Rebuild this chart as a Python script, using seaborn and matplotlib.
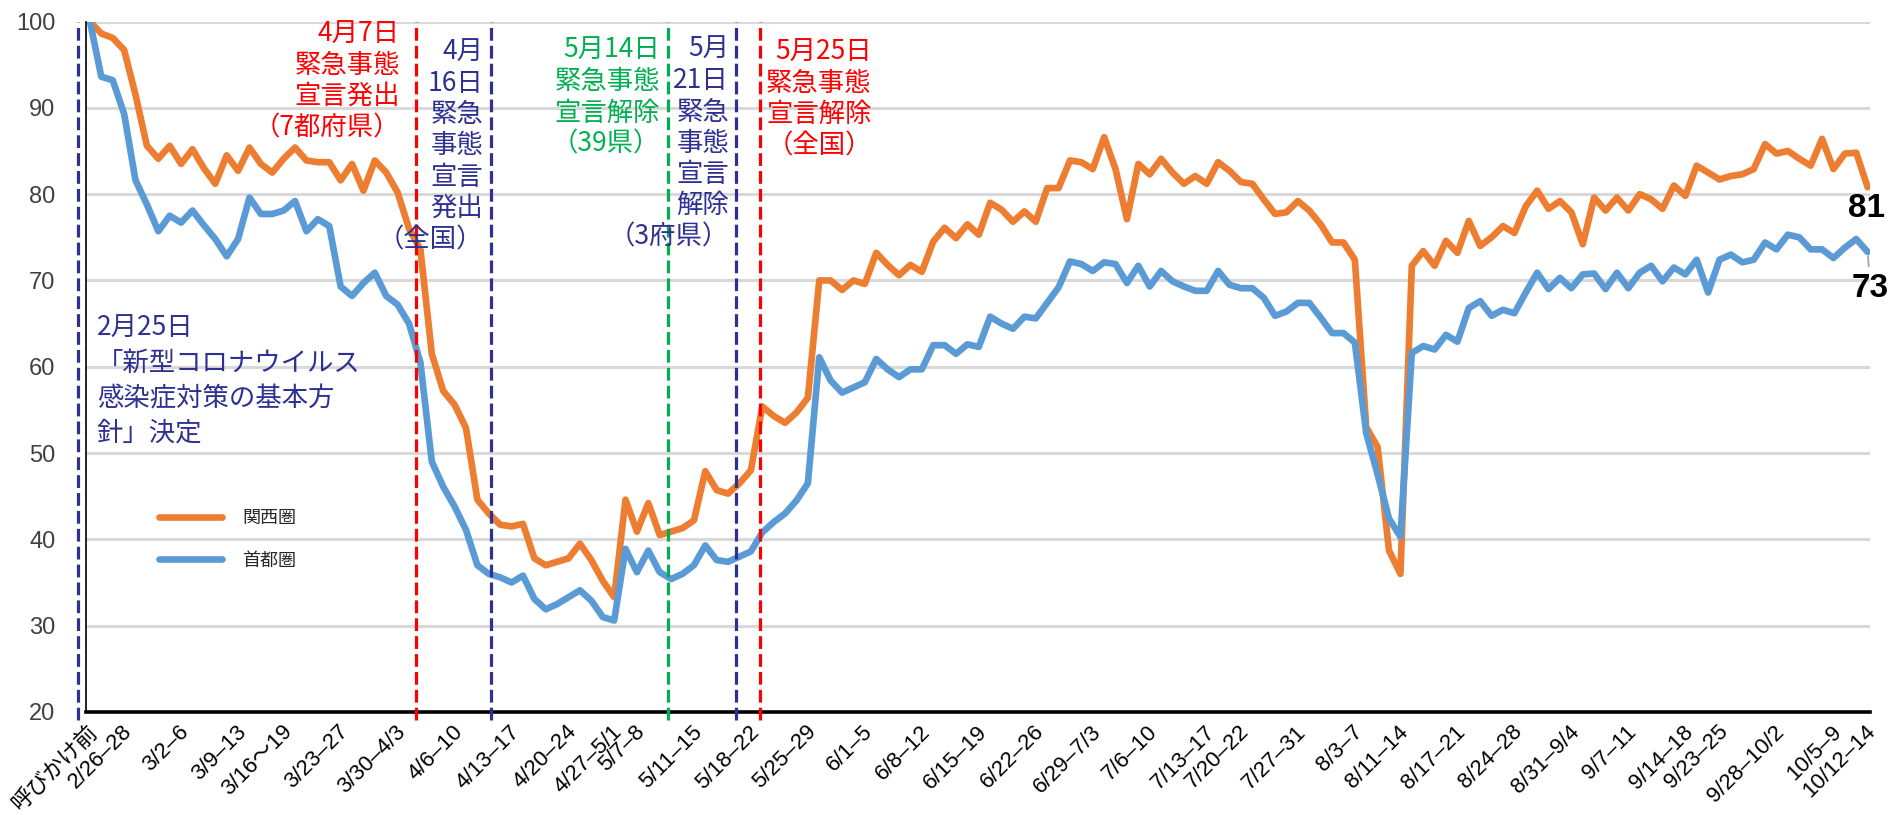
import matplotlib
matplotlib.use("Agg")
import matplotlib.pyplot as plt
from matplotlib import font_manager
from matplotlib.transforms import ScaledTranslation
import numpy as np
import seaborn as sns

# weekly category labels and number of weekday points in each week
week_labels = ['呼びかけ前', '2/26–28', '3/2–6', '3/9–13', '3/16～19', '3/23–27', '3/30–4/3',
               '4/6–10', '4/13–17', '4/20–24', '4/27–5/1', '5/7–8', '5/11–15', '5/18–22',
               '5/25–29', '6/1–5', '6/8–12', '6/15–19', '6/22–26', '6/29–7/3', '7/6–10',
               '7/13–17', '7/20–22', '7/27–31', '8/3–7', '8/11–14', '8/17–21', '8/24–28',
               '8/31–9/4', '9/7–11', '9/14–18', '9/23–25', '9/28–10/2', '10/5–9', '10/12–14']
week_days = [1, 3, 5, 5, 4, 5, 5, 5, 5, 5, 4, 2, 5, 5, 5, 5, 5, 5, 5, 5, 5, 5, 3, 5, 5,
             4, 5, 5, 5, 5, 5, 3, 5, 5, 3]

kansai = [100, 98.6, 98.1, 96.7, 91.5, 85.6, 84.1, 85.6, 83.5, 85.2,
          83.0, 81.2, 84.5, 82.7, 85.4, 83.5, 82.5, 84.1, 85.4, 83.9,
          83.7, 83.7, 81.6, 83.5, 80.4, 83.9, 82.5, 80.2, 76.0, 73.6,
          61.5, 57.2, 55.6, 52.9, 44.6, 43.0, 41.7, 41.5, 41.8, 37.8,
          37.0, 37.4, 37.8, 39.5, 37.6, 35.2, 33.3, 44.6, 40.9, 44.2,
          40.5, 40.9, 41.3, 42.2, 47.9, 45.7, 45.3, 46.5, 48.0, 55.4,
          54.3, 53.5, 54.7, 56.4, 70.0, 70.0, 68.9, 70.0, 69.6, 73.2,
          71.8, 70.6, 71.8, 71.0, 74.5, 76.1, 74.9, 76.5, 75.3, 79.0,
          78.2, 76.8, 78.0, 76.8, 80.7, 80.7, 83.9, 83.7, 82.9, 86.6,
          82.9, 77.1, 83.5, 82.3, 84.1, 82.5, 81.2, 82.1, 81.2, 83.7,
          82.7, 81.4, 81.2, 79.4, 77.7, 77.9, 79.2, 78.1, 76.5, 74.4,
          74.4, 72.4, 53.0, 50.7, 38.7, 36.0, 71.7, 73.4, 71.7, 74.6,
          73.2, 76.9, 74.0, 75.0, 76.3, 75.5, 78.6, 80.4, 78.3, 79.2,
          77.9, 74.2, 79.6, 78.1, 79.6, 78.1, 80.0, 79.4, 78.3, 81.0,
          79.8, 83.3, 82.5, 81.7, 82.1, 82.3, 82.9, 85.8, 84.7, 85.0,
          84.1, 83.3, 86.4, 82.9, 84.7, 84.8, 80.8]

shutoken = [100, 93.6, 93.2, 89.3, 81.6, 78.8, 75.7, 77.5, 76.7, 78.1,
            76.4, 74.8, 72.8, 74.8, 79.6, 77.7, 77.7, 78.1, 79.2, 75.7,
            77.1, 76.3, 69.3, 68.2, 69.7, 70.9, 68.2, 67.2, 65.0, 60.5,
            49.0, 46.1, 43.8, 41.1, 37.0, 36.0, 35.6, 35.0, 35.8, 33.1,
            31.9, 32.5, 33.3, 34.1, 32.9, 31.0, 30.6, 38.9, 36.2, 38.7,
            36.2, 35.4, 36.0, 37.0, 39.3, 37.6, 37.4, 38.0, 38.6, 40.8,
            42.0, 43.0, 44.5, 46.5, 61.1, 58.4, 57.0, 57.6, 58.2, 60.9,
            59.7, 58.8, 59.7, 59.7, 62.5, 62.5, 61.5, 62.6, 62.3, 65.8,
            65.0, 64.4, 65.8, 65.6, 67.4, 69.2, 72.2, 71.9, 71.1, 72.1,
            71.9, 69.7, 71.7, 69.3, 71.1, 69.9, 69.3, 68.8, 68.8, 71.1,
            69.5, 69.1, 69.1, 68.0, 65.9, 66.4, 67.4, 67.4, 65.7, 63.9,
            63.9, 62.8, 52.3, 47.5, 42.4, 40.3, 61.6, 62.4, 62.0, 63.7,
            62.9, 66.8, 67.6, 65.9, 66.6, 66.2, 68.6, 70.9, 69.0, 70.3,
            69.1, 70.7, 70.8, 69.0, 70.9, 69.1, 70.9, 71.7, 69.9, 71.5,
            70.7, 72.4, 68.6, 72.4, 73.0, 72.1, 72.4, 74.4, 73.6, 75.3,
            75.0, 73.6, 73.6, 72.6, 73.8, 74.8, 73.3]

# event lines (position on the day axis) and their notes
event_pos = [-1.05, 28.6, 35.2, 50.75, 56.7, 58.8]
event_notes = ['2月25日\n「新型コロナウイルス\n感染症対策の基本方\n針」決定',
               '4月7日\n緊急事態\n宣言発出\n（7都府県）',
               '4月\n16日\n緊急\n事態\n宣言\n発出\n（全国）',
               '5月14日\n緊急事態\n宣言解除\n（39県）',
               '5月\n21日\n緊急\n事態\n宣言\n解除\n（3府県）',
               '5月25日\n緊急事態\n宣言解除\n（全国）']

NAVY, RED, GREEN = '#2E3192', '#FF0000', '#00B050'
ORANGE, BLUE = '#ED7D31', '#5B9BD5'

sns.set_theme(style='white')
names = {f.name for f in font_manager.fontManager.ttflist}
num_font = 'Liberation Sans Narrow' if 'Liberation Sans Narrow' in names else 'Liberation Sans'
jp_font = 'Noto Sans CJK JP'
plt.rcParams['font.family'] = [num_font, jp_font, 'DejaVu Sans']

x = np.arange(len(kansai))

fig = plt.figure(figsize=(18.89, 8.15), dpi=100)
ax = fig.add_axes([0.0455, 0.1264, 0.9444, 0.8472])

sns.lineplot(x=x, y=kansai, ax=ax, color=ORANGE, linewidth=4.8, label='関西圏')
sns.lineplot(x=x, y=shutoken, ax=ax, color=BLUE, linewidth=4.8, label='首都圏')
for ln in ax.lines:
    ln.set_solid_joinstyle('round')

ax.set_xlim(-0.35, 156.2)
ax.set_ylim(20, 100)
ax.set_yticks(range(20, 101, 10))
ax.yaxis.grid(True, color='#d9d9d9', linewidth=2.2)
ax.xaxis.grid(False)
ax.set_axisbelow(True)
for s in ['top', 'right']:
    ax.spines[s].set_visible(False)
ax.spines['bottom'].set_color('black')
ax.spines['bottom'].set_linewidth(2.6)
ax.spines['left'].set_color('black')
ax.spines['left'].set_linewidth(1.2)

ax.tick_params(axis='y', length=0, pad=22, labelsize=17, labelcolor='#404040')
tick_pos = np.cumsum(week_days) - 1
ax.set_xticks(tick_pos)
ax.set_xticklabels(week_labels, rotation=45, ha='right', va='center',
                   rotation_mode='anchor', fontsize=16, color='black')
ax.tick_params(axis='x', length=0, pad=12)
shift = ScaledTranslation(5 / 100, 0, fig.dpi_scale_trans)
for lab in ax.get_xticklabels():
    lab.set_transform(lab.get_transform() + shift)

# vertical dashed event lines
event_colors = [NAVY, RED, NAVY, GREEN, NAVY, RED]
for pos, col in zip(event_pos, event_colors):
    ax.axvline(pos, ymin=-0.012, ymax=1.0, color=col, linewidth=2.3,
               linestyle=(0, (4, 1.6)), clip_on=False, zorder=4)

# notes next to the lines
note_xy = [(0.6, 66.0, 'left'), (27.2, 100.1, 'right'), (34.5, 98.0, 'right'),
           (50.0, 98.2, 'right'), (56.1, 98.3, 'right'), (68.6, 98.0, 'right')]
note_sp = [1.38, 1.2, 1.2, 1.2, 1.2, 1.2]
for txt, (tx, ty, ha), col, sp in zip(event_notes, note_xy, event_colors, note_sp):
    ax.text(tx, ty, txt, ha=ha, va='top', multialignment=ha, color=col,
            fontsize=19, family=[jp_font], linespacing=sp, zorder=5)

# end values
ax.annotate(f'{kansai[-1]:.0f}', xy=(x[-1], kansai[-1]), xytext=(-1, -15),
            textcoords='offset points', ha='center', va='center',
            fontsize=24, fontweight='bold', color='black', annotation_clip=False)
ax.annotate(f'{shutoken[-1]:.0f}', xy=(x[-1], shutoken[-1]), xytext=(2, -26),
            textcoords='offset points', ha='center', va='center',
            fontsize=24, fontweight='bold', color='black', annotation_clip=False,
            arrowprops=dict(arrowstyle='-', color='#a0a0a0', lw=1.2, shrinkA=2, shrinkB=3))

ax.legend(loc='upper left', bbox_to_anchor=(150 / 1889, 1 - 500 / 815),
          bbox_transform=fig.transFigure, frameon=False,
          handlelength=3.5, handletextpad=1.1, labelspacing=1.37, borderpad=0,
          prop={'family': [jp_font], 'size': 13})

fig.savefig('out.png', dpi=100)
